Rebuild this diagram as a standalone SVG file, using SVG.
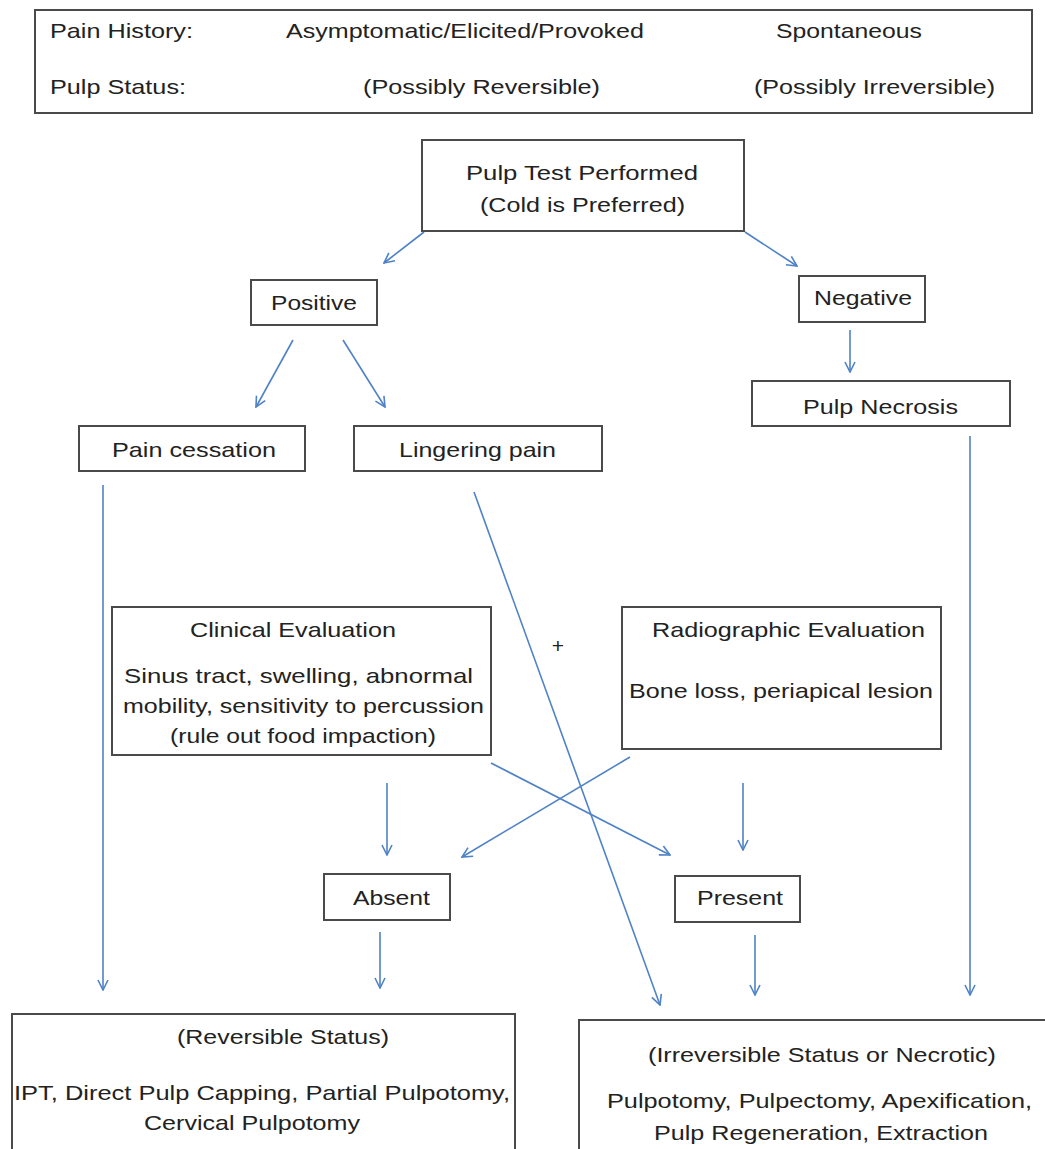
<svg xmlns="http://www.w3.org/2000/svg" width="1045" height="1149" viewBox="0 0 1045 1149">
<defs>
<marker id="ah" viewBox="0 0 12 12" refX="11" refY="6" markerWidth="12" markerHeight="12" markerUnits="userSpaceOnUse" orient="auto">
<path d="M1,1 L11,6 L1,11" fill="none" stroke="#4f82c6" stroke-width="1.6"/>
</marker>
</defs>
<style>
.box{fill:#fff;stroke:#4a4a4a;stroke-width:2}
.t{font-family:"Liberation Sans",Arial,sans-serif;font-size:21px;fill:#222}
.e{stroke:#4f82c6;stroke-width:1.6;fill:none;marker-end:url(#ah)}
</style>
<rect width="1045" height="1149" fill="#fff"/>
<g id="header">
<rect class="box" x="35" y="10" width="997" height="103"/>
<text class="t" x="50" y="38" textLength="143" lengthAdjust="spacingAndGlyphs">Pain History:</text>
<text class="t" x="286" y="38" textLength="358" lengthAdjust="spacingAndGlyphs">Asymptomatic/Elicited/Provoked</text>
<text class="t" x="776" y="38" textLength="146" lengthAdjust="spacingAndGlyphs">Spontaneous</text>
<text class="t" x="50" y="94" textLength="136" lengthAdjust="spacingAndGlyphs">Pulp Status:</text>
<text class="t" x="363" y="94" textLength="237" lengthAdjust="spacingAndGlyphs">(Possibly Reversible)</text>
<text class="t" x="754" y="94" textLength="241" lengthAdjust="spacingAndGlyphs">(Possibly Irreversible)</text>
</g>
<g id="connectors">
<line class="e" x1="424" y1="232" x2="384" y2="263"/>
<line class="e" x1="745" y1="232" x2="797" y2="266"/>
<line class="e" x1="293" y1="340" x2="256" y2="407"/>
<line class="e" x1="343" y1="340" x2="385" y2="407"/>
<line class="e" x1="850" y1="330" x2="850" y2="372"/>
<line class="e" x1="103" y1="485" x2="103" y2="990"/>
<line class="e" x1="474" y1="492" x2="660" y2="1005"/>
<line class="e" x1="970" y1="436" x2="970" y2="995"/>
<line class="e" x1="491" y1="763" x2="670" y2="855"/>
<line class="e" x1="630" y1="757" x2="462" y2="857"/>
<line class="e" x1="387" y1="783" x2="387" y2="855"/>
<line class="e" x1="743" y1="783" x2="743" y2="850"/>
<line class="e" x1="380" y1="932" x2="380" y2="988"/>
<line class="e" x1="755" y1="935" x2="755" y2="995"/>
</g>
<g id="pulp-test">
<rect class="box" x="422" y="140" width="322" height="91"/>
<text class="t" x="466" y="180" textLength="232" lengthAdjust="spacingAndGlyphs">Pulp Test Performed</text>
<text class="t" x="480" y="212" textLength="205" lengthAdjust="spacingAndGlyphs">(Cold is Preferred)</text>
</g>
<g id="positive">
<rect class="box" x="251" y="280" width="126" height="45"/>
<text class="t" x="271" y="310" textLength="86" lengthAdjust="spacingAndGlyphs">Positive</text>
</g>
<g id="negative">
<rect class="box" x="799" y="276" width="126" height="46"/>
<text class="t" x="814" y="305" textLength="98" lengthAdjust="spacingAndGlyphs">Negative</text>
</g>
<g id="pulp-necrosis">
<rect class="box" x="752" y="381" width="258" height="45"/>
<text class="t" x="803" y="414" textLength="155" lengthAdjust="spacingAndGlyphs">Pulp Necrosis</text>
</g>
<g id="pain-cessation">
<rect class="box" x="79" y="426" width="226" height="45"/>
<text class="t" x="112" y="457" textLength="164" lengthAdjust="spacingAndGlyphs">Pain cessation</text>
</g>
<g id="lingering-pain">
<rect class="box" x="354" y="426" width="248" height="45"/>
<text class="t" x="399" y="457" textLength="157" lengthAdjust="spacingAndGlyphs">Lingering pain</text>
</g>
<g id="clinical">
<rect class="box" x="112" y="607" width="379" height="148"/>
<text class="t" x="190" y="637" textLength="206" lengthAdjust="spacingAndGlyphs">Clinical Evaluation</text>
<text class="t" x="124" y="683" textLength="349" lengthAdjust="spacingAndGlyphs">Sinus tract, swelling, abnormal</text>
<text class="t" x="123" y="713" textLength="361" lengthAdjust="spacingAndGlyphs">mobility, sensitivity to percussion</text>
<text class="t" x="170" y="743" textLength="266" lengthAdjust="spacingAndGlyphs">(rule out food impaction)</text>
</g>
<g id="plus">
<text class="t" x="558" y="653" text-anchor="middle">+</text>
</g>
<g id="radiographic">
<rect class="box" x="622" y="607" width="319" height="142"/>
<text class="t" x="652" y="637" textLength="273" lengthAdjust="spacingAndGlyphs">Radiographic Evaluation</text>
<text class="t" x="629" y="698" textLength="304" lengthAdjust="spacingAndGlyphs">Bone loss, periapical lesion</text>
</g>
<g id="absent">
<rect class="box" x="324" y="874" width="126" height="46"/>
<text class="t" x="353" y="905" textLength="77" lengthAdjust="spacingAndGlyphs">Absent</text>
</g>
<g id="present">
<rect class="box" x="675" y="876" width="125" height="46"/>
<text class="t" x="697" y="905" textLength="86" lengthAdjust="spacingAndGlyphs">Present</text>
</g>
<g id="reversible">
<rect class="box" x="12" y="1014" width="503" height="150"/>
<text class="t" x="177" y="1044" textLength="212" lengthAdjust="spacingAndGlyphs">(Reversible Status)</text>
<text class="t" x="14" y="1100" textLength="496" lengthAdjust="spacingAndGlyphs">IPT, Direct Pulp Capping, Partial Pulpotomy,</text>
<text class="t" x="144" y="1130" textLength="216" lengthAdjust="spacingAndGlyphs">Cervical Pulpotomy</text>
</g>
<g id="irreversible">
<rect class="box" x="579" y="1020" width="480" height="150"/>
<text class="t" x="648" y="1062" textLength="348" lengthAdjust="spacingAndGlyphs">(Irreversible Status or Necrotic)</text>
<text class="t" x="607" y="1108" textLength="425" lengthAdjust="spacingAndGlyphs">Pulpotomy, Pulpectomy, Apexification,</text>
<text class="t" x="654" y="1140" textLength="334" lengthAdjust="spacingAndGlyphs">Pulp Regeneration, Extraction</text>
</g>
</svg>
